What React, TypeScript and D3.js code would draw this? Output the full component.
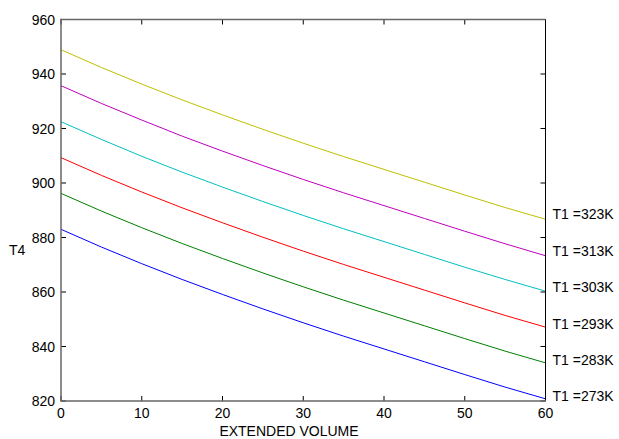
import React from "react";
import * as d3 from "d3";

const volumes = [0, 5, 10, 15, 20, 25, 30, 35, 40, 45, 50, 55, 60];
const t273 = [883.0, 876.5, 870.4, 864.6, 859.1, 853.8, 848.7, 843.8, 839.1, 834.4, 829.7, 825.1, 820.8];
const t283 = [896.2, 889.7, 883.6, 877.8, 872.3, 867.0, 861.9, 857.0, 852.3, 847.6, 842.9, 838.3, 834.0];
const t293 = [909.3, 902.8, 896.7, 890.9, 885.4, 880.1, 875.0, 870.1, 865.4, 860.7, 856.0, 851.4, 847.1];
const t303 = [922.5, 916.0, 909.8, 904.0, 898.5, 893.2, 888.1, 883.2, 878.5, 873.8, 869.1, 864.6, 860.3];
const t313 = [935.7, 929.2, 923.1, 917.2, 911.7, 906.4, 901.3, 896.4, 891.7, 887.0, 882.3, 877.7, 873.3];
const t323 = [948.9, 942.4, 936.3, 930.5, 925.0, 919.7, 914.6, 909.7, 905.0, 900.3, 895.6, 891.0, 886.7];
const seriesLabels = ["T1 =273K", "T1 =283K", "T1 =293K", "T1 =303K", "T1 =313K", "T1 =323K"];
const seriesColors = ["#0000ff", "#008000", "#ff0000", "#00bfbf", "#bf00bf", "#bfbf00"];
const xTicks = [0, 10, 20, 30, 40, 50, 60];
const yTicks = [820, 840, 860, 880, 900, 920, 940, 960];

const W = 619, H = 439;
const L = 61, R = 545.5, T = 19.5, B = 401;
const FONT = "'Liberation Sans', Arial, sans-serif";

export default function App() {
  const x = d3.scaleLinear().domain([0, 60]).range([L, R]);
  const y = d3.scaleLinear().domain([820, 960]).range([B, T]);
  const series = [t273, t283, t293, t303, t313, t323];
  const line = d3.line<number>().x((_, i) => x(volumes[i])).y((d) => y(d));
  const tk = 5;
  return (
    <svg width={W} height={H} style={{ position: "absolute", left: 0, top: 0, background: "#fff" }} fontFamily={FONT}>
      <rect x={0} y={0} width={W} height={H} fill="#fff" />
      {series.map((s, i) => (
        <path key={i} d={line(s) || ""} fill="none" stroke={seriesColors[i]} strokeWidth={1} />
      ))}
      {xTicks.map((t) => (
        <g key={"xt" + t} stroke="#000" strokeWidth={1}>
          <line x1={x(t)} x2={x(t)} y1={B} y2={B - tk} />
          <line x1={x(t)} x2={x(t)} y1={T} y2={T + tk} />
        </g>
      ))}
      {yTicks.map((t) => (
        <g key={"yt" + t} stroke="#000" strokeWidth={1}>
          <line x1={L} x2={L + tk} y1={y(t)} y2={y(t)} />
          <line x1={R} x2={R - tk} y1={y(t)} y2={y(t)} />
        </g>
      ))}
      <line x1={R} x2={R} y1={T} y2={B} stroke="#000" strokeWidth={1} />
      <line x1={L} x2={R} y1={T} y2={T} stroke="#666" strokeWidth={1.5} />
      <line x1={L} x2={R + 0.5} y1={B} y2={B} stroke="#666" strokeWidth={1.5} />
      <line x1={L} x2={L} y1={T - 0.75} y2={B + 0.75} stroke="#666" strokeWidth={1.5} />
      {xTicks.map((t) => (
        <text key={"xl" + t} x={x(t)} y={418} textAnchor="middle" fontSize={14} fill="#000">{t}</text>
      ))}
      {yTicks.map((t) => (
        <text key={"yl" + t} x={55} y={y(t) + 5} textAnchor="end" fontSize={14} fill="#000">{t}</text>
      ))}
      {series.map((s, i) => (
        <text key={"sl" + i} x={552.5} y={y(s[s.length - 1]) + 2.5 - i * 0.5} fontSize={14} fill="#000">{seriesLabels[i]}</text>
      ))}
      <text x={289} y={436} textAnchor="middle" fontSize={14} fill="#000">EXTENDED VOLUME</text>
      <text x={9} y={255} fontSize={14} fill="#000">T4</text>
    </svg>
  );
}
